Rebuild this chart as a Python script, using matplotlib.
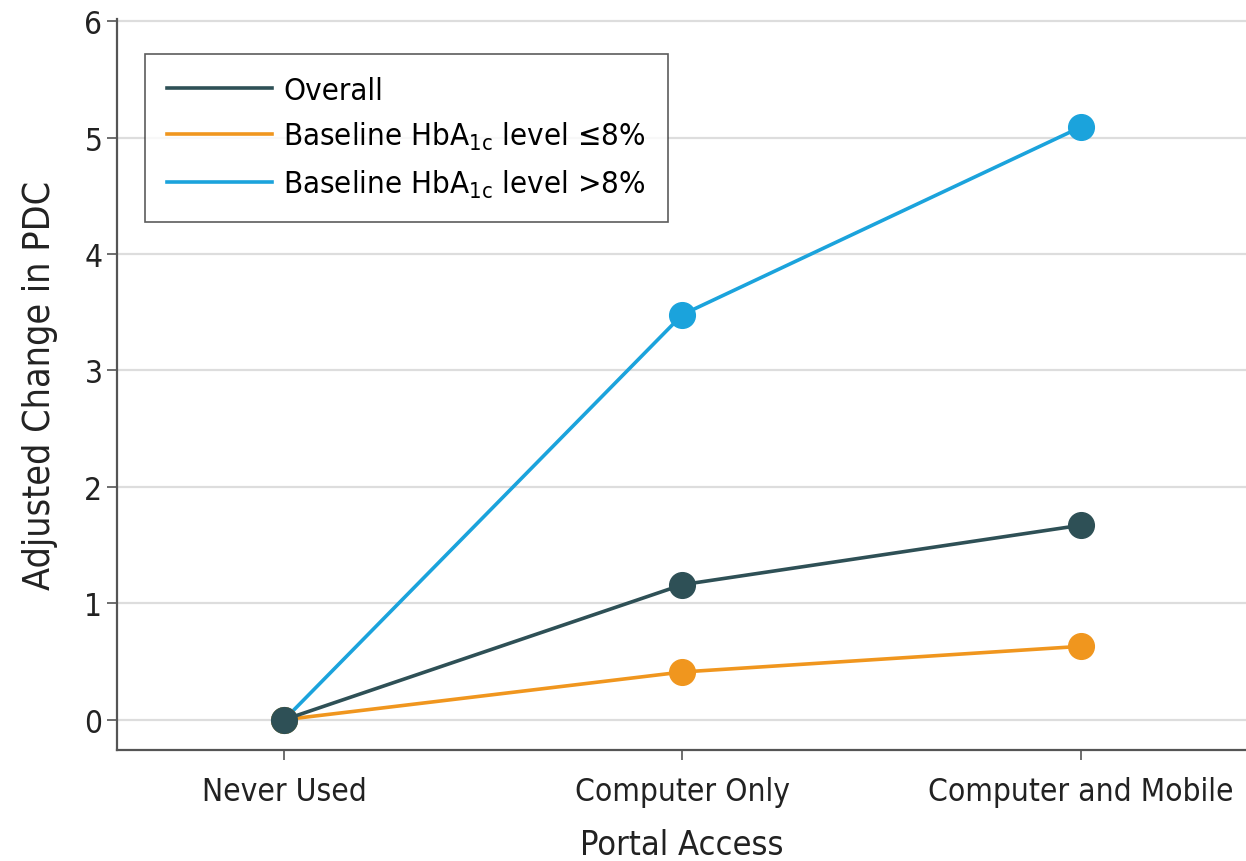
import numpy as np
import matplotlib
matplotlib.use("Agg")
import matplotlib.pyplot as plt

categories = ["Never Used", "Computer Only", "Computer and Mobile"]
overall = [0, 1.16, 1.67]
low_hba1c = [0, 0.41, 0.63]
high_hba1c = [0, 3.48, 5.09]

plt.rcParams['font.family'] = ['DejaVu Sans']
plt.rcParams['font.stretch'] = 'condensed'

fig = plt.figure(figsize=(12.46, 8.62), dpi=100)
ax = fig.add_axes([0.0939, 0.1288, 0.9061, 0.8482])

x = np.arange(len(categories))
ax.plot(x, high_hba1c, color='#1ba3dc', lw=2.6, marker='o', ms=18.5, zorder=3,
        label=r'Baseline HbA$_{\mathregular{1c}}$ level >8%')
ax.plot(x, low_hba1c, color='#f0961e', lw=2.6, marker='o', ms=18.5, zorder=3,
        label=r'Baseline HbA$_{\mathregular{1c}}$ level ≤8%')
ax.plot(x, overall, color='#2e5056', lw=2.6, marker='o', ms=18.5, zorder=4,
        label='Overall')

ax.set_xlim(-0.42, 2.415)
ax.set_ylim(-0.26, 6.02)
ax.set_xticks(x)
ax.set_xticklabels(categories)
ax.set_yticks(range(0, 7))
ax.grid(axis='y', color='#dddddd', lw=1.6)
ax.set_axisbelow(True)

for s in ['top', 'right']:
    ax.spines[s].set_visible(False)
for s in ['left', 'bottom']:
    ax.spines[s].set_color('#555555')
    ax.spines[s].set_linewidth(1.6)
ax.tick_params(axis='both', colors='#555555', width=1.2, length=7, labelsize=22.7,
               labelcolor='#222222')
ax.tick_params(axis='x', pad=12)

ax.set_xlabel('Portal Access', fontsize=24.7, color='#222222', labelpad=15)
ax.set_ylabel('Adjusted Change in PDC', fontsize=27, color='#222222', labelpad=19)

handles, labels = ax.get_legend_handles_labels()
order = [2, 1, 0]
leg = ax.legend([handles[i] for i in order], [labels[i] for i in order],
                loc='upper left', bbox_to_anchor=(0.0248, 0.952), borderaxespad=0,
                fontsize=22.4, frameon=True, fancybox=False, handlelength=3.37,
                handletextpad=0.38, borderpad=0.7, labelspacing=0.5)
leg.get_frame().set_edgecolor('#333333')
leg.get_frame().set_linewidth(1.2)
for h in leg.legend_handles:
    h.set_marker('')

fig.savefig('out.png', dpi=100)
